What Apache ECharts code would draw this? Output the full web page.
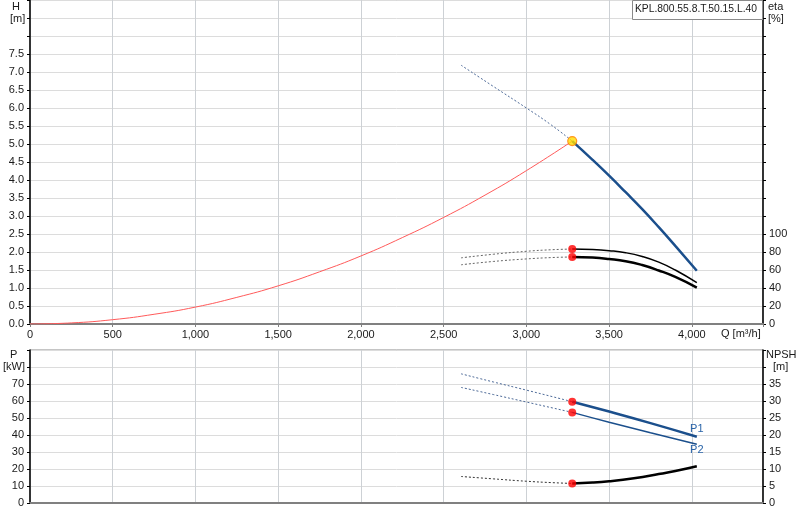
<!DOCTYPE html>
<html>
<head>
<meta charset="utf-8">
<script src="https://cdn.jsdelivr.net/npm/echarts@6/dist/echarts.min.js"></script>
<style>html,body{margin:0;padding:0;background:#fff;}#c{width:800px;height:520px;}</style>
</head>
<body>
<div id="c"></div>
<script>
// ---- data ----
const pumpName = 'KPL.800.55.8.T.50.15.L.40';
const xTicks = [0, 500, 1000, 1500, 2000, 2500, 3000, 3500, 4000];
const qSys = [0, 250, 500, 750, 1000, 1250, 1500, 1750, 2000, 2250, 2500, 2750, 3000, 3277];
const hSys = [0, 0.03, 0.12, 0.27, 0.47, 0.74, 1.06, 1.45, 1.89, 2.40, 2.96, 3.58, 4.26, 5.08];
const qDot = [2605, 2800, 3000, 3150, 3277];
const qSolid = [3277, 3400, 3500, 3600, 3700, 3800, 3900, 4030];
const hDot = [7.19, 6.60, 6.00, 5.53, 5.08];
const hSolid = [5.08, 4.56, 4.12, 3.66, 3.19, 2.69, 2.17, 1.48];
const eta1Dot = [73.5, 77.5, 80.8, 82.5, 83.3];
const eta1Solid = [83.3, 82.8, 81.5, 79.2, 75.0, 68.7, 60.0, 45.9];
const eta2Dot = [65.8, 69.5, 72.3, 73.8, 74.5];
const eta2Solid = [74.5, 73.8, 72.2, 69.8, 65.5, 59.5, 52.3, 40.5];
const qPDot = [2605, 2800, 3000, 3277];
const qPSolid = [3277, 3500, 3750, 4030];
const p1Dot = [76.0, 71.2, 66.4, 59.6];
const p1Solid = [59.6, 53.8, 47.0, 39.0];
const p2Dot = [68.0, 63.8, 59.4, 53.3];
const p2Solid = [53.3, 47.5, 41.3, 34.5];
const qNDot = [2605, 2800, 3000, 3150, 3277];
const qNSolid = [3277, 3400, 3500, 3650, 3800, 3900, 4030];
const npshDot = [7.8, 7.1, 6.4, 6.0, 5.75];
const npshSolid = [5.75, 6.0, 6.4, 7.3, 8.5, 9.4, 10.8];
const opQ = 3277, opH = 5.08;

const zip = (a, b) => a.map((v, i) => [v, b[i]]);
const FONT = 'Liberation Sans';
const TXT = '#1a1a1a';
const BLUE = '#1b4f8c';
const BLUE_D = '#4d6a98';
const XMAX = 4430;

const chart = echarts.init(document.getElementById('c'), null, {renderer: 'canvas'});

function xAxis(gi, labels) {
  return {
    type: 'value', gridIndex: gi, min: 0, max: XMAX, interval: 500,
    axisLine: {show: true, onZero: false, lineStyle: {color: '#808080', width: 2}},
    axisTick: {show: labels, length: 3, lineStyle: {color: '#808080'}},
    axisLabel: {show: labels, margin: 5, fontFamily: FONT, fontSize: 11, color: TXT,
      formatter: v => (xTicks.includes(v) ? echarts.format.addCommas(v) : '')},
    splitLine: {show: true, lineStyle: {color: '#cdd1d5', width: 1}}
  };
}
function yAxis(gi, pos, max, interval, labelMax, fmt) {
  return {
    type: 'value', gridIndex: gi, position: pos, min: 0, max: max, interval: interval,
    axisLine: {show: true, onZero: false, lineStyle: {color: '#000', width: 1.5}},
    axisTick: {show: true, length: 3, lineStyle: {color: '#000'}},
    axisLabel: {margin: 6, fontFamily: FONT, fontSize: 11, color: TXT,
      formatter: v => (v <= labelMax + 1e-9 ? fmt(v) : '')},
    splitLine: {show: pos === 'left', lineStyle: {color: '#dcdcdc', width: 1}}
  };
}
function line(name, data, xi, yi, color, width, dotted, z) {
  return {
    type: 'line', name: name, data: data, xAxisIndex: xi, yAxisIndex: yi,
    smooth: true, showSymbol: false, symbol: 'none', animation: false, silent: true, z: z || 2,
    lineStyle: {color: color, width: width, type: dotted ? [2, 2] : 'solid'}
  };
}

const option = {
  animation: false,
  backgroundColor: '#fff',
  grid: [
    {left: 30, right: 37, top: 0, height: 324, show: true, borderColor: '#8a8a8a', borderWidth: 1},
    {left: 30, right: 37, top: 350, height: 153, show: true, borderColor: '#8a8a8a', borderWidth: 1}
  ],
  xAxis: [xAxis(0, true), xAxis(1, false)],
  yAxis: [
    yAxis(0, 'left', 9, 0.5, 7.5, v => v.toFixed(1)),
    yAxis(0, 'right', 360, 20, 100, v => String(v)),
    yAxis(1, 'left', 90, 10, 70, v => String(v)),
    yAxis(1, 'right', 45, 5, 35, v => String(v))
  ],
  series: [
    line('system', zip(qSys, hSys), 0, 0, '#ff5a5a', 1, false, 3),
    line('H ext', zip(qDot, hDot), 0, 0, BLUE_D, 1, true),
    line('H', zip(qSolid, hSolid), 0, 0, BLUE, 2.5, false, 4),
    line('eta1 ext', zip(qDot, eta1Dot), 0, 1, '#666', 1, true),
    line('eta1', zip(qSolid, eta1Solid), 0, 1, '#000', 1.5, false),
    line('eta2 ext', zip(qDot, eta2Dot), 0, 1, '#666', 1, true),
    line('eta2', zip(qSolid, eta2Solid), 0, 1, '#000', 2.5, false),
    {type: 'scatter', xAxisIndex: 0, yAxisIndex: 1, symbolSize: 8, z: 6, silent: true,
      itemStyle: {color: '#ff0000'}, data: [[opQ, eta1Solid[0]], [opQ, eta2Solid[0]]]},
    {type: 'scatter', xAxisIndex: 0, yAxisIndex: 0, symbolSize: 9, z: 7, silent: true,
      itemStyle: {color: '#ffdd00', borderColor: '#ff7f00', borderWidth: 1.2}, data: [[opQ, opH]]},

    line('P1 ext', zip(qPDot, p1Dot), 1, 2, BLUE_D, 1, true),
    Object.assign(line('P1', zip(qPSolid, p1Solid), 1, 2, BLUE, 2.5, false, 4), {
      markPoint: {symbol: 'circle', symbolSize: 0, silent: true, animation: false,
        label: {show: true, position: 'top', distance: 2, formatter: 'P1', color: '#2a64a8', fontFamily: FONT, fontSize: 11},
        data: [{coord: [qPSolid[qPSolid.length - 1], p1Solid[p1Solid.length - 1]]}]}
    }),
    line('P2 ext', zip(qPDot, p2Dot), 1, 2, BLUE_D, 1, true),
    Object.assign(line('P2', zip(qPSolid, p2Solid), 1, 2, BLUE, 1.5, false, 4), {
      markPoint: {symbol: 'circle', symbolSize: 0, silent: true, animation: false,
        label: {show: true, position: 'bottom', distance: 0, formatter: 'P2', color: '#2a64a8', fontFamily: FONT, fontSize: 11},
        data: [{coord: [qPSolid[qPSolid.length - 1], p2Solid[p2Solid.length - 1]]}]}
    }),
    line('NPSH ext', zip(qNDot, npshDot), 1, 3, '#333', 1, true),
    line('NPSH', zip(qNSolid, npshSolid), 1, 3, '#000', 2.5, false),
    {type: 'scatter', xAxisIndex: 1, yAxisIndex: 2, symbolSize: 8, z: 6, silent: true,
      itemStyle: {color: '#ff0000'}, data: [[opQ, p1Solid[0]], [opQ, p2Solid[0]]]},
    {type: 'scatter', xAxisIndex: 1, yAxisIndex: 3, symbolSize: 8, z: 6, silent: true,
      itemStyle: {color: '#ff0000'}, data: [[opQ, npshSolid[0]]]}
  ],
  graphic: [
    {type: 'text', left: 12, top: 1, style: {text: 'H', font: '11px ' + FONT, fill: TXT}},
    {type: 'text', left: 10, top: 13, style: {text: '[m]', font: '11px ' + FONT, fill: TXT}},
    {type: 'text', left: 768, top: 1, style: {text: 'eta', font: '11px ' + FONT, fill: TXT}},
    {type: 'text', left: 768, top: 13, style: {text: '[%]', font: '11px ' + FONT, fill: TXT}},
    {type: 'text', left: 721, top: 328, style: {text: 'Q [m³/h]', font: '11px ' + FONT, fill: TXT}},
    {type: 'text', left: 10, top: 349, style: {text: 'P', font: '11px ' + FONT, fill: TXT}},
    {type: 'text', left: 3, top: 361, style: {text: '[kW]', font: '11px ' + FONT, fill: TXT}},
    {type: 'text', left: 766, top: 349, style: {text: 'NPSH', font: '11px ' + FONT, fill: TXT}},
    {type: 'text', left: 773, top: 361, style: {text: '[m]', font: '11px ' + FONT, fill: TXT}},
    {type: 'rect', left: 632, top: 0, z: 10, shape: {width: 130, height: 19},
      style: {fill: '#fff', stroke: '#8a8a8a', lineWidth: 1}},
    {type: 'text', left: 635, top: 4, z: 11, style: {text: pumpName, font: '10.3px ' + FONT, fill: TXT}}
  ]
};
chart.setOption(option);
</script>
</body>
</html>
